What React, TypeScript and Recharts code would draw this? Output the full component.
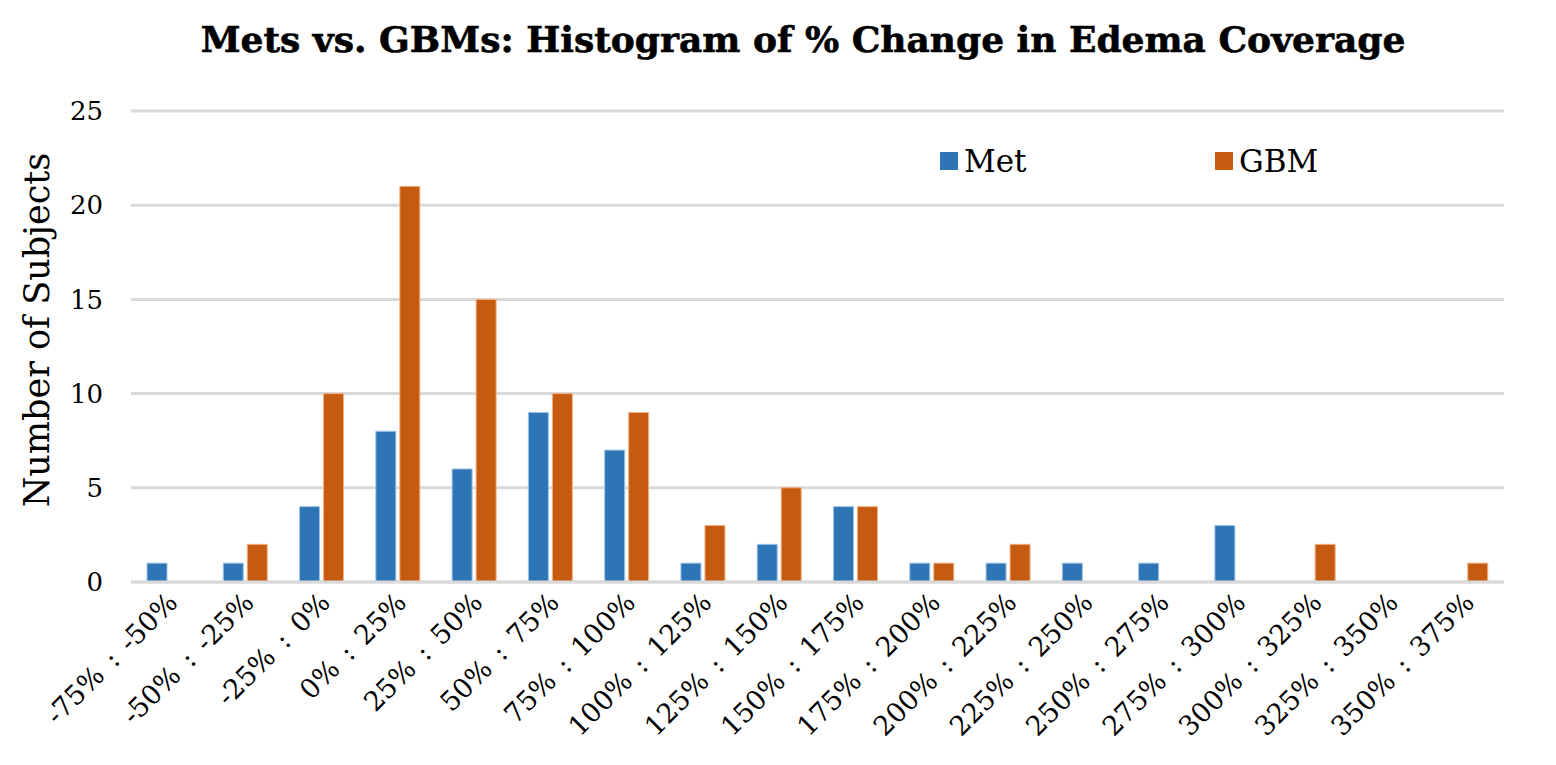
import React from "react";
import { BarChart, Bar, XAxis, YAxis, CartesianGrid } from "recharts";

const categories = ["-75% : -50%", "-50% : -25%", "-25% : 0%", "0% : 25%", "25% : 50%", "50% : 75%", "75% : 100%", "100% : 125%", "125% : 150%", "150% : 175%", "175% : 200%", "200% : 225%", "225% : 250%", "250% : 275%", "275% : 300%", "300% : 325%", "325% : 350%", "350% : 375%"];
const metValues = [1, 1, 4, 8, 6, 9, 7, 1, 2, 4, 1, 1, 1, 1, 3, 0, 0, 0];
const gbmValues = [0, 2, 10, 21, 15, 10, 9, 3, 5, 4, 1, 2, 0, 0, 0, 2, 0, 1];
const yTicks = [0, 5, 10, 15, 20, 25];

const data = categories.map((c, i) => ({ name: c, Met: metValues[i], GBM: gbmValues[i] }));

const FONT = "'DejaVu Serif', 'Liberation Serif', serif";
const BLUE = "#2E75B6";
const ORANGE = "#C55A11";

const XTick = (props: any) => {
  const { x, y, payload } = props;
  return (
    <g transform={`translate(${x + 10},${y + 14})`}>
      <text textAnchor="end" transform="rotate(-45)" fontFamily={FONT} fontSize={27} wordSpacing={4} fill="#000">
        {payload.value}
      </text>
    </g>
  );
};

export default function App() {
  return (
    <div style={{ position: "absolute", left: 0, top: 0, width: 1556, height: 765, background: "#fff" }}>
      <div style={{ position: "absolute", left: 0, top: 18, width: 1606, textAlign: "center", fontFamily: FONT, fontWeight: 900, fontSize: 36, color: "#000", WebkitTextStroke: "0.6px #000" }}>
        Mets vs. GBMs: Histogram of % Change in Edema Coverage
      </div>
      <div style={{ position: "absolute", left: 37, top: 330, width: 0, height: 0 }}>
        <div style={{ position: "absolute", left: 0, top: 0, transform: "translate(-50%,-50%) rotate(-90deg)", whiteSpace: "nowrap", fontFamily: FONT, fontSize: 35, color: "#000" }}>
          Number of Subjects
        </div>
      </div>
      <div style={{ position: "absolute", left: 940, top: 143, display: "flex", alignItems: "center", fontFamily: FONT, fontSize: 31 }}>
        <span style={{ display: "inline-block", width: 18, height: 18, background: BLUE, marginRight: 6 }} />
        <span>Met</span>
      </div>
      <div style={{ position: "absolute", left: 1215, top: 143, display: "flex", alignItems: "center", fontFamily: FONT, fontSize: 31 }}>
        <span style={{ display: "inline-block", width: 18, height: 18, background: ORANGE, marginRight: 6 }} />
        <span>GBM</span>
      </div>
      <BarChart width={1556} height={765} data={data} margin={{ top: 111, right: 52, bottom: 8, left: 0 }} barGap={4} barSize={20} style={{ position: "absolute", left: 0, top: 0 }}>
        <CartesianGrid vertical={false} stroke="#D9D9D9" strokeWidth={3} />
        <XAxis dataKey="name" interval={0} tick={<XTick />} tickLine={false} axisLine={{ stroke: "#D9D9D9", strokeWidth: 3 }} height={175} />
        <YAxis domain={[0, 25]} ticks={yTicks} width={131} tickLine={false} axisLine={false} tick={{ fontFamily: FONT, fontSize: 26, fill: "#000" }} tickMargin={22} />
        <Bar dataKey="Met" fill={BLUE} stroke="#9DC3E6" strokeWidth={1} isAnimationActive={false} />
        <Bar dataKey="GBM" fill={ORANGE} stroke="#F4B183" strokeWidth={1} isAnimationActive={false} />
      </BarChart>
    </div>
  );
}
